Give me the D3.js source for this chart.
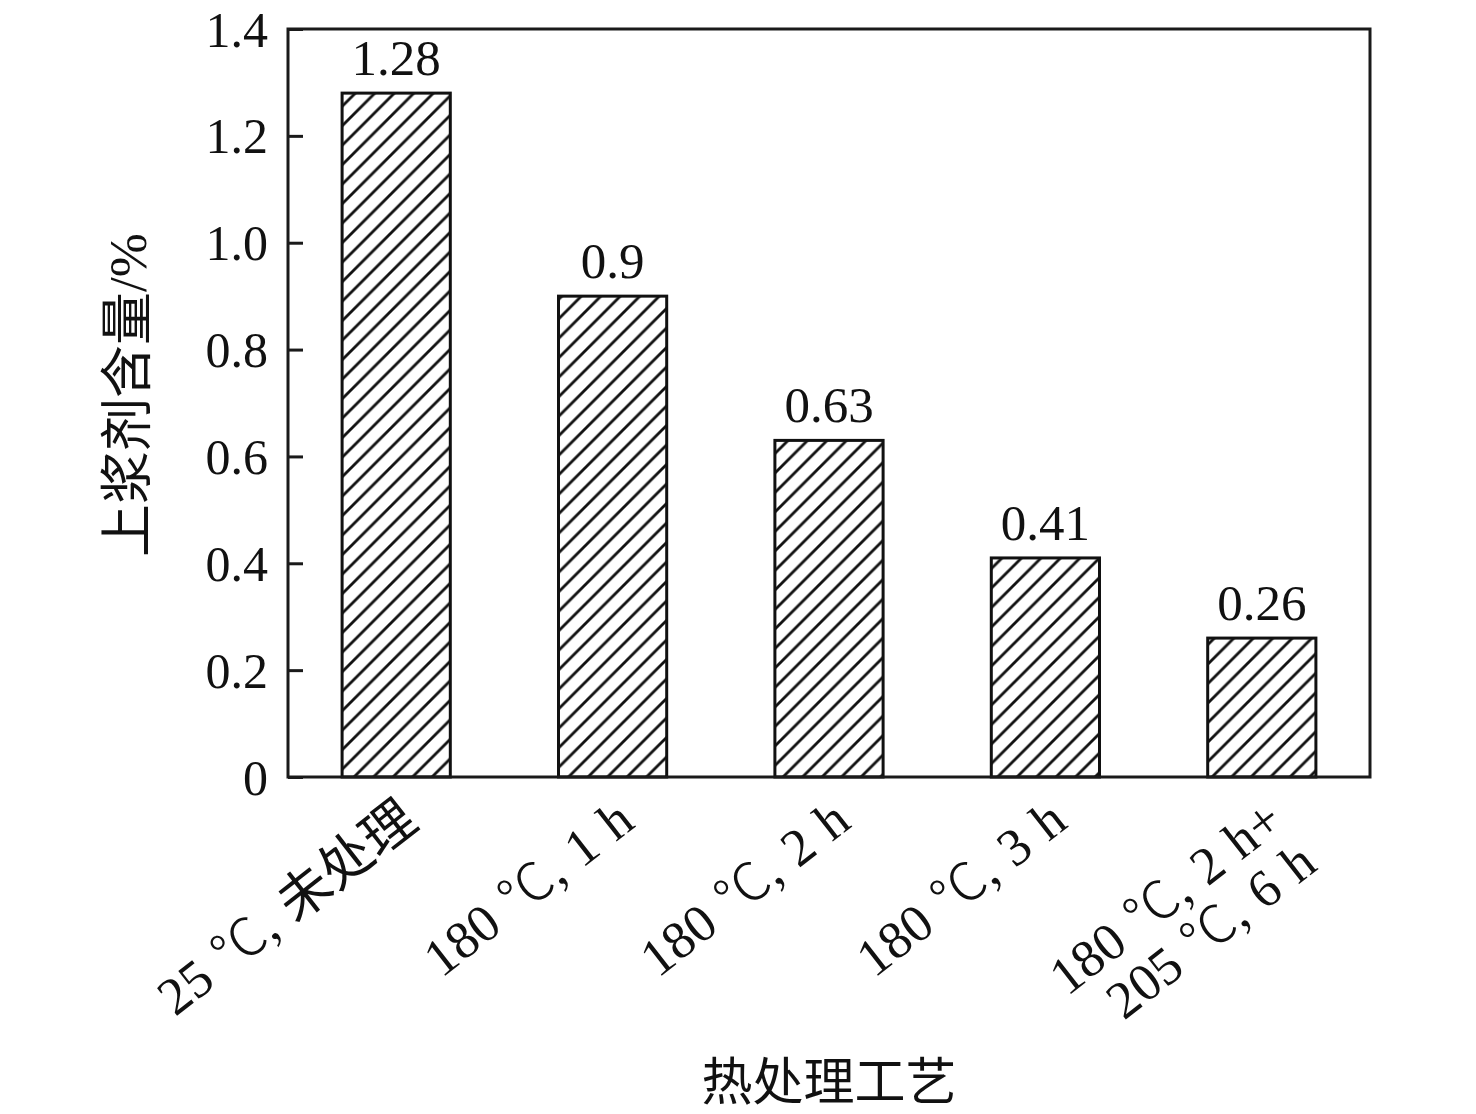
<!DOCTYPE html>
<html><head><meta charset="utf-8">
<script src="https://cdn.jsdelivr.net/npm/d3@7"></script>
<style>body{margin:0;background:#fff}</style>
</head><body>
<svg id="c" width="1476" height="1114"></svg>
<script>
const categories = [["25 ℃, 未处理"], ["180 ℃, 1 h"], ["180 ℃, 2 h"], ["180 ℃, 3 h"], ["180 ℃, 2 h+", "205 ℃, 6 h"]];
const values = [1.28, 0.9, 0.63, 0.41, 0.26];
const valueLabels = ["1.28", "0.9", "0.63", "0.41", "0.26"];
const yTicks = [0, 0.2, 0.4, 0.6, 0.8, 1.0, 1.2, 1.4];
const yTitle = "上浆剂含量/%";
const xTitle = "热处理工艺";

const FONT = "'Liberation Serif','Times New Roman','Noto Sans CJK SC',serif";
const CJK = "'Noto Sans CJK SC','Liberation Serif',serif";
const svg = d3.select("#c");
const m = {l: 288, r: 1370, t: 29, b: 777};
const x = d3.scaleBand().domain(d3.range(values.length)).range([m.l, m.r]).paddingInner(0.5).paddingOuter(0.25);
const y = d3.scaleLinear().domain([0, 1.4]).range([m.b, m.t]);

const defs = svg.append("defs");
const pat = defs.append("pattern").attr("id", "hatch").attr("patternUnits", "userSpaceOnUse")
  .attr("width", 19.5).attr("height", 19.5);
pat.append("path").attr("d", "M-2,21.5 L21.5,-2 M-5,5 L5,-5 M14.5,24.5 L24.5,14.5")
  .attr("stroke", "#111").attr("stroke-width", 2.8).attr("fill", "none");

// bars
svg.selectAll("rect.bar").data(values).join("rect").attr("class", "bar")
  .attr("x", (d, i) => x(i)).attr("width", x.bandwidth())
  .attr("y", d => y(d)).attr("height", d => y(0) - y(d))
  .attr("fill", "url(#hatch)").attr("stroke", "#111").attr("stroke-width", 3);

// value labels
svg.selectAll("text.val").data(values).join("text").attr("class", "val")
  .attr("x", (d, i) => x(i) + x.bandwidth() / 2).attr("y", d => y(d) - 18)
  .attr("text-anchor", "middle").attr("font-family", FONT).attr("font-size", 51).attr("fill", "#111")
  .text((d, i) => valueLabels[i]);

// frame
svg.append("rect").attr("x", m.l).attr("y", m.t).attr("width", m.r - m.l).attr("height", m.b - m.t)
  .attr("fill", "none").attr("stroke", "#1a1a1a").attr("stroke-width", 3);

// y axis
const ya = d3.axisLeft(y).tickValues(yTicks).tickSize(-15).tickPadding(20)
  .tickFormat(d => d === 0 ? "0" : d3.format(".1f")(d));
const gy = svg.append("g").attr("transform", `translate(${m.l},0)`).call(ya);
gy.select(".domain").remove();
gy.selectAll(".tick line").attr("stroke", "#1a1a1a").attr("stroke-width", 3);
gy.selectAll(".tick text").attr("font-family", FONT).attr("font-size", 50).attr("fill", "#111").attr("dy", "0.34em");

// helper: write a label line, giving ℃ the wide CJK glyph
function addLine(t, str, xo, yo) {
  const parts = str.split("℃");
  parts.forEach((p, k) => {
    const s = t.append("tspan").text(p);
    if (k === 0) s.attr("x", xo).attr("y", yo);
    if (k < parts.length - 1) t.append("tspan").attr("font-family", CJK).attr("font-weight", 300).text("℃");
  });
}

// x tick labels
const gx = svg.append("g");
categories.forEach((lines, i) => {
  const cx = x(i) + x.bandwidth() / 2 + 24;
  const cy = 826;
  const t = gx.append("text").attr("transform", `translate(${cx},${cy}) rotate(-38)`)
    .attr("text-anchor", "end").attr("font-family", FONT).attr("font-size", 53)
    .attr("word-spacing", 3).attr("fill", "#111");
  if (lines.length === 1) {
    addLine(t, lines[0], 0, 0);
  } else {
    addLine(t, lines[0], 0, 0);
    addLine(t, lines[1], 0, 54);
  }
});

// axis titles
svg.append("text").attr("x", (m.l + m.r) / 2).attr("y", 1100).attr("text-anchor", "middle")
  .attr("font-family", FONT).attr("font-size", 51).attr("fill", "#111").text(xTitle);
svg.append("text").attr("transform", `translate(146,${(m.t + m.b) / 2 - 8}) rotate(-90)`).attr("text-anchor", "middle")
  .attr("font-family", FONT).attr("font-size", 53).attr("fill", "#111").text(yTitle);
</script>
</body></html>
